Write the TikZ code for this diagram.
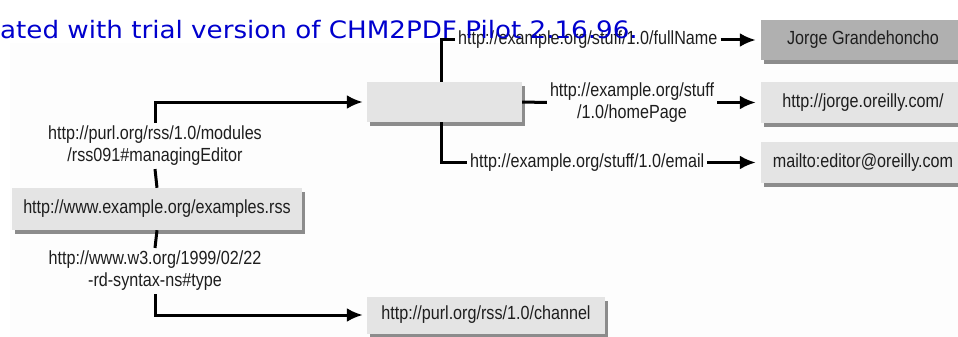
\documentclass[tikz,border=0pt]{standalone}
\usepackage{fontspec}
\setmainfont{Liberation Sans}[FakeStretch=0.85]
\newfontfamily\wmfont{DejaVu Sans}[FakeStretch=1.09]
\usetikzlibrary{arrows.meta,shadows}
\definecolor{boxfill}{HTML}{E4E4E4}
\definecolor{darkfill}{HTML}{B0B0B0}
\definecolor{shadowc}{HTML}{8C8C8C}
\definecolor{wmblue}{RGB}{0,0,205}
\definecolor{bgfaint}{HTML}{FDFDFD}
\definecolor{inkc}{HTML}{1E1E1E}
\begin{document}
\begin{tikzpicture}[x=1pt,y=-1pt,
 res/.style={rectangle, fill=boxfill, inner sep=0pt, font=\fontsize{19}{21}\selectfont, text=inkc,
   drop shadow={shadow xshift=3pt, shadow yshift=-4pt, fill=shadowc, opacity=1}},
 prop/.style={inner sep=3pt, align=center, font=\fontsize{19}{22}\selectfont, text=inkc},
 conn/.style={line width=3pt, draw=black},
 arr/.style={conn, -{Latex[length=16pt,width=14pt]}},
]
\useasboundingbox (0,0) rectangle (958,337);
\fill[bgfaint] (10,43) rectangle (958,337);

% resource boxes
\node[res, minimum width=155pt, minimum height=40pt] (mid) at (444.5,102) {};
\node[res, fill=darkfill, minimum width=204pt, minimum height=40pt] (jorge) at (863,40) {Jorge Grandehoncho};
\node[res, minimum width=204pt, minimum height=41pt] (home) at (863,102.5) {http://jorge.oreilly.com/};
\node[res, minimum width=204pt, minimum height=41pt] (mail) at (863,162.5) {mailto:editor@oreilly.com};
\node[res, minimum width=290pt, minimum height=42pt] (rss) at (157,209) {http://www.example.org/examples.rss};
\node[res, minimum width=238pt, minimum height=37pt] (chan) at (486,315) {http://purl.org/rss/1.0/channel};

% property labels
\node[prop, anchor=west] (fn) at (455,40) {http://example.org/stuff/1.0/fullName};
\node[prop] (hp) at (632,102.5) {http://example.org/stuff\\/1.0/homePage};
\node[prop, anchor=west] (em) at (467,162.5) {http://example.org/stuff/1.0/email};
\node[prop] (me) at (155,146) {http://purl.org/rss/1.0/modules\\/rss091\#managingEditor};
\node[prop] (ty) at (155,271) {http://www.w3.org/1999/02/22\\-rd-syntax-ns\#type};

% connectors
\draw[conn] ([xshift=-3.5pt]mid.north) |- (fn.west);
\draw[arr, shorten >=5pt] (fn.east) -- (jorge.west);
\draw[conn] (mid.east) -- (hp.west);
\draw[arr, shorten >=5pt] (hp.east) -- (home.west);
\draw[conn] ([xshift=-3.5pt]mid.south) |- (em.west);
\draw[arr, shorten >=5pt] (em.east) -- (mail.west);
\draw[arr, shorten >=4pt] (me.north) |- (mid.west);
\draw[conn] (me.south) -- (rss.north);
\draw[conn] (rss.south) -- (ty.north);
\draw[arr, shorten >=4pt] (ty.south) |- (chan.west);

% watermark
\node[anchor=base west, inner sep=0pt, text=wmblue, font=\wmfont\fontsize{24}{28}\selectfont] (wm) at (0,38) {ated with trial version of CHM2PDF Pilot 2.16.96.};
\end{tikzpicture}
\end{document}
